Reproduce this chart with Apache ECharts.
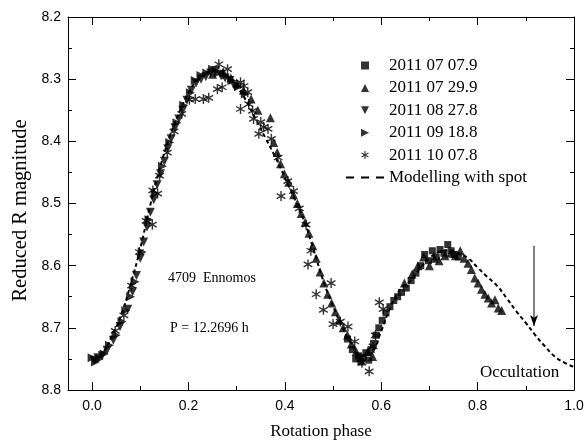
<!DOCTYPE html>
<html><head><meta charset="utf-8">
<script src="https://cdn.jsdelivr.net/npm/echarts@6/dist/echarts.min.js"></script>
<style>html,body{margin:0;padding:0;background:#fff}#c{width:587px;height:445px}</style>
</head><body><div id="c"></div>
<script>
// ---- data ----
const seriesNames = ['2011 07 07.9','2011 07 29.9','2011 08 27.8','2011 09 18.8','2011 10 07.8'];
const modelName = 'Modelling with spot';
const xMajor = [0,0.2,0.4,0.6,0.8,1.0];
const xMinor = [0.1,0.3,0.5,0.7,0.9];
const sq0707 = [[0.530,8.718],[0.540,8.735],[0.547,8.750],[0.553,8.745],[0.558,8.755],[0.563,8.748],[0.568,8.740],[0.574,8.752],[0.579,8.735],[0.584,8.725],[0.589,8.712],[0.595,8.700],[0.602,8.688],[0.610,8.676],[0.618,8.666],[0.626,8.656],[0.634,8.650],[0.642,8.643],[0.652,8.636],[0.662,8.624],[0.672,8.612],[0.682,8.600],[0.690,8.582],[0.698,8.592],[0.706,8.576],[0.714,8.586],[0.722,8.574],[0.730,8.580],[0.738,8.566],[0.745,8.576],[0.752,8.582],[0.760,8.586]];
const tri0729 = [[0.250,8.292],[0.272,8.288],[0.288,8.298],[0.300,8.306],[0.314,8.318],[0.330,8.332],[0.344,8.350],[0.370,8.362],[0.377,8.402],[0.384,8.418],[0.391,8.436],[0.399,8.452],[0.408,8.466],[0.418,8.486],[0.426,8.500],[0.434,8.516],[0.442,8.530],[0.450,8.548],[0.458,8.568],[0.465,8.588],[0.473,8.610],[0.481,8.628],[0.489,8.646],[0.497,8.660],[0.505,8.674],[0.513,8.688],[0.521,8.700],[0.530,8.712],[0.538,8.726],[0.548,8.738],[0.557,8.748],[0.572,8.738],[0.582,8.746],[0.648,8.628],[0.664,8.614],[0.676,8.600],[0.688,8.586],[0.700,8.600],[0.710,8.588],[0.720,8.592],[0.732,8.584],[0.744,8.580],[0.754,8.584],[0.764,8.576],[0.772,8.588],[0.780,8.596],[0.787,8.606],[0.794,8.620],[0.801,8.628],[0.808,8.638],[0.815,8.646],[0.822,8.652],[0.829,8.660],[0.836,8.655],[0.843,8.668],[0.850,8.672]];
const dn0827 = [[0.004,8.752],[0.012,8.748],[0.021,8.745],[0.031,8.736],[0.044,8.720],[0.058,8.698],[0.074,8.670],[0.084,8.642],[0.092,8.616],[0.100,8.588],[0.107,8.562],[0.114,8.538],[0.121,8.514],[0.128,8.494],[0.135,8.470],[0.142,8.452],[0.150,8.432],[0.157,8.412],[0.164,8.396],[0.172,8.378],[0.180,8.364],[0.188,8.350],[0.197,8.334],[0.206,8.318],[0.216,8.306],[0.226,8.300],[0.236,8.296],[0.246,8.290],[0.256,8.286],[0.266,8.292],[0.276,8.298],[0.286,8.302],[0.296,8.312]];
const rt0918 = [[0.000,8.748],[0.007,8.755],[0.015,8.750],[0.025,8.742],[0.036,8.728],[0.050,8.712],[0.062,8.690],[0.070,8.672],[0.080,8.650],[0.089,8.626],[0.104,8.578],[0.118,8.526],[0.131,8.484],[0.146,8.440],[0.161,8.402],[0.176,8.370],[0.190,8.342],[0.204,8.322],[0.214,8.302],[0.226,8.294],[0.238,8.290],[0.250,8.284],[0.262,8.290],[0.276,8.294],[0.290,8.302],[0.304,8.312],[0.318,8.324]];
const st1007 = [[0.048,8.705],[0.066,8.680],[0.082,8.632],[0.098,8.578],[0.112,8.528],[0.125,8.534],[0.126,8.479],[0.136,8.484],[0.140,8.455],[0.156,8.418],[0.170,8.384],[0.186,8.356],[0.202,8.333],[0.214,8.332],[0.231,8.332],[0.242,8.330],[0.260,8.316],[0.263,8.276],[0.270,8.313],[0.281,8.284],[0.308,8.305],[0.315,8.311],[0.323,8.321],[0.308,8.348],[0.325,8.340],[0.333,8.351],[0.335,8.364],[0.350,8.369],[0.356,8.377],[0.346,8.388],[0.365,8.380],[0.372,8.396],[0.386,8.426],[0.392,8.488],[0.406,8.464],[0.418,8.480],[0.430,8.508],[0.444,8.534],[0.448,8.598],[0.454,8.576],[0.465,8.646],[0.480,8.671],[0.496,8.628],[0.500,8.694],[0.515,8.690],[0.531,8.698],[0.545,8.722],[0.560,8.756],[0.575,8.770],[0.583,8.730],[0.588,8.712],[0.596,8.659],[0.604,8.670]];
const modelPhase = [0.00,0.02,0.04,0.06,0.08,0.10,0.12,0.14,0.16,0.18,0.20,0.22,0.24,0.26,0.28,0.30,0.32,0.34,0.36,0.38,0.40,0.42,0.44,0.46,0.48,0.50,0.52,0.54,0.56,0.58,0.60,0.62,0.64,0.66,0.68,0.70,0.72,0.74,0.76,0.78,0.80,0.82,0.84,0.86,0.88,0.90,0.92,0.94,0.96,0.98,1.00];
const modelMag = [8.750,8.742,8.715,8.680,8.630,8.572,8.505,8.445,8.395,8.355,8.322,8.300,8.288,8.287,8.295,8.312,8.335,8.365,8.395,8.425,8.458,8.492,8.528,8.575,8.625,8.665,8.700,8.728,8.745,8.740,8.705,8.665,8.638,8.625,8.605,8.588,8.578,8.575,8.580,8.588,8.603,8.618,8.632,8.652,8.673,8.692,8.712,8.730,8.746,8.756,8.763];
const arrowPhase = [0.917,0.917];
const arrowMag = [8.568,8.697];
const labelTitle = '4709  Ennomos';
const labelPeriod = 'P = 12.2696 h';
const labelOcc = 'Occultation';

// ---- symbols ----
const SYM_SQ = 'path://M0,0L10,0L10,10L0,10Z';
const SYM_UP = 'path://M5,0L10,10L0,10Z';
const SYM_DN = 'path://M0,0L10,0L5,10Z';
const SYM_RT = 'path://M0,0L10,5L0,10Z';
const SYM_ST = 'path://M43,0L57,0L57,100L43,100Z M89.8,18.9L96.8,31.1L10.2,81.1L3.2,68.9Z M3.2,31.1L10.2,18.9L96.8,68.9L89.8,81.1Z';

const serif = '"Liberation Serif", "Times New Roman", serif';
const sans = '"Liberation Sans", Arial, sans-serif';

const chart = echarts.init(document.getElementById('c'), null, {renderer:'canvas'});
const axLine = {show:true, onZero:false, lineStyle:{color:'#000', width:1}};
const xBase = {type:'value', min:-0.05, max:1.0, splitLine:{show:false}, axisLine:axLine};
const fmt1 = v => Number(v).toFixed(1);

function scat(name, data, symbol, size, z){
  return {type:'scatter', name, data, symbol, symbolSize:size, symbolKeepAspect:true,
    itemStyle:{color:'#000'}, z, xAxisIndex:0, yAxisIndex:0};
}

chart.setOption({
  animation:false,
  backgroundColor:'#fff',
  grid:{left:68, right:13, top:17, bottom:51},
  legend:{
    orient:'vertical', left:340, top:52, padding:5, itemWidth:38, itemHeight:8, itemGap:5.4,
    textStyle:{fontFamily:serif, fontSize:17, color:'#000', lineHeight:17},
    symbolKeepAspect:true,
    data:[
      {name:seriesNames[0]},{name:seriesNames[1]},{name:seriesNames[2]},{name:seriesNames[3]},{name:seriesNames[4]},
      {name:modelName, lineStyle:{type:[8,7], width:2, color:'#000'},
       itemStyle:{color:'rgba(0,0,0,0)', opacity:0, borderWidth:0}}
    ]
  },
  xAxis:[
    Object.assign({}, xBase, {position:'bottom',
      axisTick:{show:true, inside:true, length:8, customValues:xMajor, lineStyle:{color:'#000'}},
      axisLabel:{show:true, customValues:xMajor, formatter:fmt1, margin:9, fontFamily:sans, fontSize:14, color:'#000'},
      name:'Rotation phase', nameLocation:'middle', nameGap:33,
      nameTextStyle:{fontFamily:serif, fontSize:17, color:'#000'}}),
    Object.assign({}, xBase, {position:'bottom', axisLine:{show:false},
      axisTick:{show:true, inside:true, length:4, customValues:xMinor, lineStyle:{color:'#000'}},
      axisLabel:{show:false}}),
    Object.assign({}, xBase, {position:'top',
      axisTick:{show:true, inside:true, length:8, customValues:xMajor, lineStyle:{color:'#000'}},
      axisLabel:{show:false}}),
    Object.assign({}, xBase, {position:'top', axisLine:{show:false},
      axisTick:{show:true, inside:true, length:4, customValues:xMinor, lineStyle:{color:'#000'}},
      axisLabel:{show:false}})
  ],
  yAxis:[
    {type:'value', position:'left', inverse:true, min:8.2, max:8.8, interval:0.1,
     splitLine:{show:false}, axisLine:axLine,
     axisTick:{show:true, inside:true, length:8, lineStyle:{color:'#000'}},
     minorTick:{show:true, splitNumber:2, length:4, lineStyle:{color:'#000'}},
     axisLabel:{formatter:fmt1, margin:7, fontFamily:sans, fontSize:14, color:'#000'},
     name:'Reduced R magnitude', nameLocation:'middle', nameGap:36,
     nameTextStyle:{fontFamily:serif, fontSize:20.5, color:'#000', padding:[0,14,0,0]}},
    {type:'value', position:'right', inverse:true, min:8.2, max:8.8, interval:0.1,
     splitLine:{show:false}, axisLine:axLine,
     axisTick:{show:true, inside:true, length:8, lineStyle:{color:'#000'}},
     minorTick:{show:true, splitNumber:2, length:4, lineStyle:{color:'#000'}},
     axisLabel:{show:false}}
  ],
  series:[
    {type:'line', name:modelName, data:modelPhase.map((p,i)=>[p, modelMag[i]]), smooth:true,
     symbol:'none', itemStyle:{color:'#000'}, lineStyle:{color:'#000', width:2, type:[4,3]}, z:1, xAxisIndex:0, yAxisIndex:0},
    scat(seriesNames[0], sq0707, SYM_SQ, 7, 3),
    scat(seriesNames[1], tri0729, SYM_UP, 9, 3),
    scat(seriesNames[2], dn0827, SYM_DN, 9, 3),
    scat(seriesNames[3], rt0918, SYM_RT, 9, 3),
    scat(seriesNames[4], st1007, SYM_ST, 10, 4),
    {type:'line', name:'arrow', data:[
        {value:[arrowPhase[0], arrowMag[0]], symbol:'none'},
        {value:[arrowPhase[1], arrowMag[1]], symbol:'arrow', symbolSize:[6,11], symbolRotate:180}],
     symbol:'none', showSymbol:true, lineStyle:{color:'#000', width:1}, itemStyle:{color:'#000'},
     z:5, xAxisIndex:0, yAxisIndex:0, silent:true}
  ],
  graphic:[
    {type:'text', left:168, top:271, style:{text:labelTitle, font:'14px '+serif, fill:'#000'}},
    {type:'text', left:170, top:321, style:{text:labelPeriod, font:'14px '+serif, fill:'#000'}},
    {type:'text', left:480, top:364, style:{text:labelOcc, font:'17px '+serif, fill:'#000'}}
  ]
});
</script></body></html>
